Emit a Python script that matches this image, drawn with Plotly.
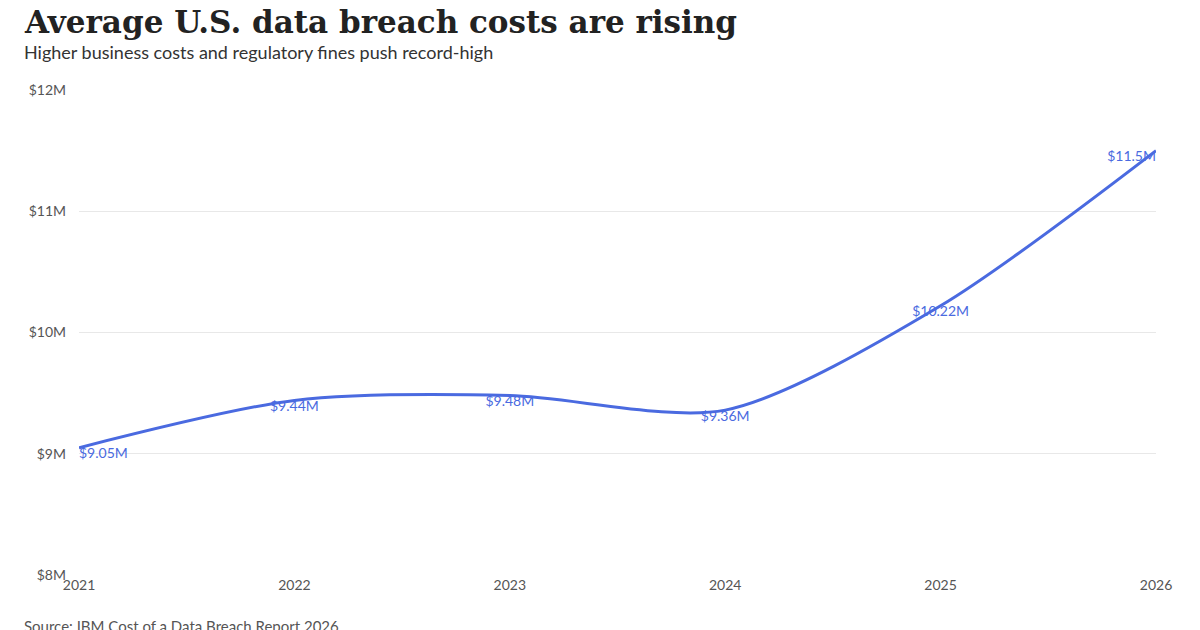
import plotly.graph_objects as go

years = [2021, 2022, 2023, 2024, 2025, 2026]
costs = [9.05, 9.44, 9.48, 9.36, 10.22, 11.5]
labels = ["$9.05M", "$9.44M", "$9.48M", "$9.36M", "$10.22M", "$11.5M"]
y_ticks = [8, 9, 10, 11, 12]
y_tick_text = ["$8M", "$9M", "$10M", "$11M", "$12M"]

blue = "#4a6ae0"

fig = go.Figure()
fig.add_trace(go.Scatter(
    x=years, y=costs, mode="lines+text",
    line=dict(color=blue, width=3, shape="spline", smoothing=0.8),
    text=labels,
    textposition=["bottom right"] + ["bottom center"] * 4 + ["bottom left"],
    textfont=dict(color=blue, size=14, family="Lato"),
    cliponaxis=False, showlegend=False, hoverinfo="skip",
))

fig.update_layout(
    width=1200, height=630,
    margin=dict(l=71, r=52, t=82, b=63),
    plot_bgcolor="white", paper_bgcolor="white",
    font=dict(family="Lato", color="#333"),
    xaxis=dict(range=[2021, 2026], tickvals=years, showgrid=False,
               zeroline=False, tickfont=dict(size=14, color="#555")),
    yaxis=dict(range=[8, 12], tickvals=y_ticks, ticktext=y_tick_text,
               gridcolor="#e8e8e8", zeroline=False, automargin=False,
               ticklabelstandoff=12,
               tickfont=dict(size=14, color="#555")),
    annotations=[
        dict(text="<b>Average U.S. data breach costs are rising</b>",
             xref="paper", yref="paper", x=0, xanchor="left",
             y=1, yanchor="bottom", yshift=48, xshift=-57, showarrow=False,
             font=dict(family="DejaVu Serif", size=31, color="#222")),
        dict(text="Higher business costs and regulatory fines push record-high",
             xref="paper", yref="paper", x=0, xanchor="left",
             y=1, yanchor="bottom", yshift=25, xshift=-57, showarrow=False,
             font=dict(family="Lato", size=18, color="#333")),
        dict(text="Source: IBM Cost of a Data Breach Report 2026",
             xref="paper", yref="paper", x=0, xanchor="left",
             y=0, yanchor="top", yshift=-40, xshift=-57, showarrow=False,
             font=dict(family="Lato", size=15, color="#555")),
    ],
)

fig.write_html("out.html")
